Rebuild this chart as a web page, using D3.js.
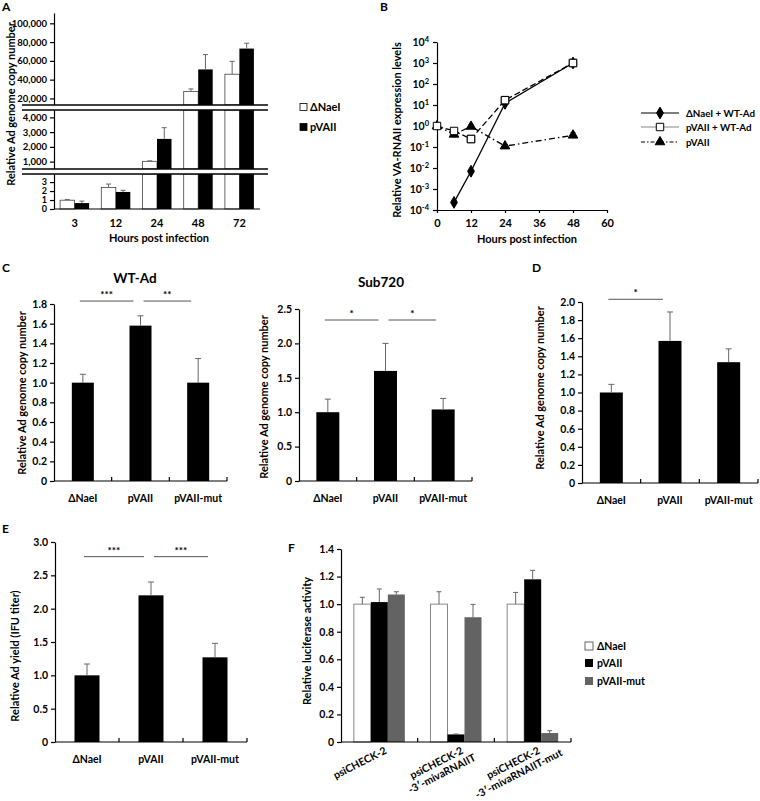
<!DOCTYPE html>
<html><head><meta charset="utf-8">
<script src="https://cdn.jsdelivr.net/npm/d3@7"></script>
<style>
body{margin:0;background:#fff}
svg text{font-family:Lato,"Open Sans",sans-serif;font-weight:700;fill:#000}
.tick text{font-size:10.5px}
.pa .tick text{font-size:9.5px}
.pa .low .tick text{font-size:9px}
</style></head><body>
<svg id="c" width="760" height="801"></svg>
<script>
// ---------------- data ----------------
// Panel A
const hoursA = ["3","12","24","48","72"];
const aNaeI = [0.98, 2.4, 1020, 27500, 45800];
const aNaeIErr = [0.07, 0.38, 30, 2600, 13700];
const aPVAII = [0.66, 1.9, 2540, 50900, 73100];
const aPVAIIErr = [0.22, 0.18, 760, 15800, 5700];
const aTicksTop = [20000, 40000, 60000, 80000, 100000];
const aTicksMid = [1000, 2000, 3000, 4000];
const aTicksLow = [0, 1, 2, 3];
const aLegend = ["ΔNaeI", "pVAII"];
// Panel B
const bTicksX = [0, 12, 24, 36, 48, 60];
const bTicksY = [1e-4, 1e-3, 1e-2, 1e-1, 1, 10, 100, 1000, 1e4];
const bNaeITimes = [6, 12, 24, 48];
const bNaeIVals = [2.3e-4, 7e-3, 12, 1000];
const bNaeIUp = [2.9e-4, 7.6e-3, 13, 1000];
const bPvaWtTimes = [0, 6, 12, 24, 48];
const bPvaWtVals = [1, 0.58, 0.24, 17, 1000];
const bPvaWtUp = [1.1, 0.62, 0.26, 19, 1250];
const bPvaTimes = [0, 6, 12, 24, 48];
const bPvaVals = [1, 0.4, 0.95, 0.11, 0.36];
const bPvaUp = [1.1, 0.45, 1.15, 0.125, 0.48];
const bPvaLo = [0.95, 0.36, 0.8, 0.1, 0.29];
const bLegend = ["ΔNaeI + WT-Ad", "pVAII + WT-Ad", "pVAII"];
// Panels C, D, E
const cats = ["ΔNaeI", "pVAII", "pVAII-mut"];
const wtVals = [1.0, 1.58, 1.0];
const wtErr = [0.085, 0.10, 0.245];
const wtTicks = [0, 0.2, 0.4, 0.6, 0.8, 1.0, 1.2, 1.4, 1.6, 1.8];
const wtSig = [[0, 1, "***", 1.83], [1, 2, "**", 1.83]];
const subVals = [1.0, 1.6, 1.04];
const subErr = [0.19, 0.40, 0.16];
const subTicks = [0, 0.5, 1.0, 1.5, 2.0, 2.5];
const subSig = [[0, 1, "*", 2.34], [1, 2, "*", 2.34]];
const dVals = [1.0, 1.57, 1.335];
const dErr = [0.09, 0.32, 0.147];
const dTicks = [0, 0.2, 0.4, 0.6, 0.8, 1.0, 1.2, 1.4, 1.6, 1.8, 2.0];
const dSig = [[0, 1, "*", 2.03]];
const eVals = [1.0, 2.2, 1.27];
const eErr = [0.17, 0.2, 0.21];
const eTicks = [0, 0.5, 1.0, 1.5, 2.0, 2.5, 3.0];
const eSig = [[0, 1, "***", 2.78], [1, 2, "***", 2.78]];
// Panel F
const fCats = [["psiCHECK-2"], ["psiCHECK-2", "-3′-mivaRNAIIT"], ["psiCHECK-2", "-3′-mivaRNAIIT-mut"]];
const fSeries = ["ΔNaeI", "pVAII", "pVAII-mut"];
const fNaeI = [1.0, 1.0, 1.0];
const fNaeIErr = [0.05, 0.09, 0.085];
const fPVAII = [1.015, 0.055, 1.18];
const fPVAIIErr = [0.095, 0.003, 0.065];
const fMut = [1.07, 0.905, 0.065];
const fMutErr = [0.02, 0.093, 0.017];
const fTicks = [0, 0.2, 0.4, 0.6, 0.8, 1.0, 1.2, 1.4];

// ---------------- helpers ----------------
const svg = d3.select("#c");
const ERR = "#666";
const fmt1 = d => d === 0 ? "0" : d3.format(".1f")(d);

function txt(x, y, t, size, anchor) {
  return svg.append("text").attr("x", x).attr("y", y).attr("text-anchor", anchor || "start")
    .style("font-size", size + "px").text(t);
}
function yTitle(x, y, t) {
  svg.append("text").attr("transform", `translate(${x},${y}) rotate(-90)`)
    .attr("text-anchor", "middle").attr("dy", "0.35em").style("font-size", "11px").text(t);
}
function errBar(g, cx, y1, y2, w) {
  g.append("line").attr("x1", cx).attr("x2", cx).attr("y1", y1).attr("y2", y2).attr("stroke", ERR).attr("stroke-width", 1);
  g.append("line").attr("x1", cx - w / 2).attr("x2", cx + w / 2).attr("y1", y2).attr("y2", y2).attr("stroke", ERR).attr("stroke-width", 1);
}
function styleAxis(sel) {
  sel.selectAll("path,line").attr("stroke", "#000").attr("stroke-width", 1.2);
  sel.attr("font-family", null).attr("font-size", null);
}

// generic single-series bar panel
function barPanel(o) {
  const x = d3.scaleBand().domain(d3.range(o.cats.length)).range([o.left, o.right]);
  const y = d3.scaleLinear().domain([0, o.max]).range([o.bottom, o.top]);
  const cx = i => x(i) + x.bandwidth() / 2;
  const g = svg.append("g");
  g.selectAll("rect").data(o.vals).join("rect")
    .attr("x", (d, i) => cx(i) - o.barW / 2).attr("width", o.barW)
    .attr("y", d => y(d)).attr("height", d => y(0) - y(d)).attr("fill", "#000");
  o.vals.forEach((v, i) => errBar(g, cx(i), y(v), y(v + o.errs[i]), 6));
  const ya = g.append("g").attr("transform", `translate(${o.left},0)`)
    .call(d3.axisLeft(y).tickValues(o.ticks).tickFormat(fmt1).tickSize(4).tickSizeOuter(0).tickPadding(3));
  styleAxis(ya);
  g.append("line").attr("x1", o.left).attr("x2", o.right).attr("y1", o.bottom).attr("y2", o.bottom)
    .attr("stroke", "#000").attr("stroke-width", 1.2);
  d3.range(1, o.cats.length + 1).forEach(i => {
    const xx = o.left + i * x.step();
    g.append("line").attr("x1", xx).attr("x2", xx).attr("y1", o.bottom).attr("y2", o.bottom - 4).attr("stroke", "#000").attr("stroke-width", 1.2);
  });
  o.cats.forEach((c, i) => {
    g.append("text").attr("x", cx(i)).attr("y", o.bottom + 21).attr("text-anchor", "middle").style("font-size", "10.5px").text(c);
  });
  (o.sig || []).forEach(s => {
    const x1 = cx(s[0]) + (s[0] === 0 ? -3 : 3), x2 = cx(s[1]) - 7, yy = y(s[3]);
    g.append("line").attr("x1", x1).attr("x2", x2).attr("y1", yy).attr("y2", yy).attr("stroke", "#555").attr("stroke-width", 1);
    g.append("text").attr("x", (x1 + x2) / 2).attr("y", yy - 3).attr("text-anchor", "middle").style("font-size", "10px").text(s[2]);
  });
  yTitle(o.titleX, o.titleY, o.ytitle);
}

// ---------------- Panel A ----------------
(function () {
  const x = d3.scaleBand().domain(hoursA).range([54, 260]);
  const segs = [
    { s: d3.scaleLinear().domain([13000, 111000]).range([105, 13]), ticks: aTicksTop, cls: "top" },
    { s: d3.scaleLinear().domain([500, 4500]).range([169, 110]), ticks: aTicksMid, cls: "mid" },
    { s: d3.scaleLinear().domain([0, 3.9]).range([209, 174]), ticks: aTicksLow, cls: "low" }
  ];
  const g = svg.append("g").attr("class", "pa");
  const bw = 14.5;
  const series = [
    { vals: aNaeI, errs: aNaeIErr, off: -bw, fill: "#fff" },
    { vals: aPVAII, errs: aPVAIIErr, off: 0, fill: "#000" }
  ];
  series.forEach(ser => {
    ser.vals.forEach((v, i) => {
      const cx = x(hoursA[i]) + x.bandwidth() / 2;
      segs.forEach(sg => {
        const [lo, hi] = sg.s.domain();
        if (v <= lo && lo > 0) return;
        const yb = sg.s(lo), yt = sg.s(Math.min(v, hi));
        g.append("rect").attr("x", cx + ser.off).attr("width", bw).attr("y", yt).attr("height", yb - yt)
          .attr("fill", ser.fill).attr("stroke", ser.fill === "#fff" ? "#444" : "none").attr("stroke-width", 0.8);
        if (v > lo && v <= hi) errBar(g, cx + ser.off + bw / 2, sg.s(v), sg.s(v + ser.errs[i]), 5);
      });
    });
  });
  segs.forEach(sg => {
    const ax = g.append("g").attr("class", sg.cls).attr("transform", "translate(54,0)")
      .call(d3.axisLeft(sg.s).tickValues(sg.ticks).tickFormat(d3.format(",")).tickSize(4).tickSizeOuter(0).tickPadding(3));
    styleAxis(ax);
  });
  g.append("line").attr("x1", 54).attr("x2", 260).attr("y1", 209).attr("y2", 209).attr("stroke", "#000").attr("stroke-width", 1.2);
  [[105, 110], [169, 174]].forEach(([a, b]) => {
    g.append("rect").attr("x", 22).attr("width", 246).attr("y", a).attr("height", b - a).attr("fill", "#fff");
    [a, b].forEach(yy => g.append("line").attr("x1", 22).attr("x2", 268).attr("y1", yy).attr("y2", yy).attr("stroke", "#000").attr("stroke-width", 1.6));
  });
  hoursA.forEach(h => g.append("text").attr("x", x(h) + x.bandwidth() / 2).attr("y", 227).attr("text-anchor", "middle").style("font-size", "11px").text(h));
  txt(159, 242, "Hours post infection", 11, "middle");
  yTitle(11, 104, "Relative Ad genome copy number");
  // legend
  const lg = [{ fill: "#fff", y: 107 }, { fill: "#000", y: 127 }];
  lg.forEach((l, i) => {
    svg.append("rect").attr("x", 300).attr("y", l.y - 3.5).attr("width", 7).attr("height", 7)
      .attr("fill", l.fill).attr("stroke", "#000").attr("stroke-width", 0.8);
    txt(310, l.y + 4, aLegend[i], 11);
  });
  txt(2, 11, "A", 12);
})();

// ---------------- Panel B ----------------
(function () {
  const x = d3.scaleLinear().domain([0, 60]).range([437, 607]);
  const y = d3.scaleLog().domain([1e-4, 1e4]).range([210, 42]);
  const g = svg.append("g");
  const ya = g.append("g").attr("transform", "translate(437,0)")
    .call(d3.axisLeft(y).tickValues(bTicksY).tickSize(4).tickSizeOuter(0).tickPadding(4).tickFormat(d => ""));
  styleAxis(ya);
  ya.selectAll(".tick text").each(function (d) {
    const t = d3.select(this);
    t.append("tspan").style("font-size", "10.5px").text("10");
    t.append("tspan").attr("dy", "-0.5em").style("font-size", "7.5px").text(String(Math.round(Math.log10(d))));
  });
  const xa = g.append("g").attr("transform", "translate(0,210)")
    .call(d3.axisBottom(x).tickValues(bTicksX).tickSize(3).tickSizeOuter(0).tickPadding(6));
  styleAxis(xa);
  xa.selectAll(".tick text").style("font-size", "11px");
  const line = d3.line().x(d => x(d[0])).y(d => y(d[1]));
  const sets = [
    { t: bNaeITimes, v: bNaeIVals, up: bNaeIUp, dash: null, sym: d3.symbolDiamond, size: 40, fill: "#000" },
    { t: bPvaWtTimes, v: bPvaWtVals, up: bPvaWtUp, dash: "6,3", sym: d3.symbolSquare, size: 55, fill: "#fff" },
    { t: bPvaTimes, v: bPvaVals, up: bPvaUp, lo: bPvaLo, dash: "6,3,1.5,3", sym: d3.symbolTriangle, size: 40, fill: "#000" }
  ];
  sets.forEach(s => {
    g.append("path").attr("d", line(s.t.map((tt, i) => [tt, s.v[i]]))).attr("fill", "none")
      .attr("stroke", "#000").attr("stroke-width", 1.3).attr("stroke-dasharray", s.dash);
  });
  sets.forEach(s => {
    s.t.forEach((tt, i) => {
      const lo = s.lo ? s.lo[i] : s.v[i];
      g.append("line").attr("x1", x(tt)).attr("x2", x(tt)).attr("y1", y(lo)).attr("y2", y(s.up[i])).attr("stroke", "#000").attr("stroke-width", 0.8);
      g.append("line").attr("x1", x(tt) - 2.5).attr("x2", x(tt) + 2.5).attr("y1", y(s.up[i])).attr("y2", y(s.up[i])).attr("stroke", "#000").attr("stroke-width", 0.8);
    });
  });
  sets.slice().reverse().forEach(s => {
    s.t.forEach((tt, i) => {
      g.append("path").attr("d", d3.symbol(s.sym, s.size)()).attr("transform", `translate(${x(tt)},${y(s.v[i])})`)
        .attr("fill", s.fill).attr("stroke", "#000").attr("stroke-width", 1);
    });
  });
  // square markers drawn on top where they lead (12 h, 24 h, 48 h)
  bPvaWtTimes.forEach((tt, i) => {
    if (tt < 12) return;
    g.append("path").attr("d", d3.symbol(d3.symbolSquare, 55)())
      .attr("transform", `translate(${x(tt)},${y(bPvaWtVals[i])})`).attr("fill", "#fff").attr("stroke", "#000").attr("stroke-width", 1);
  });
  txt(527, 243, "Hours post infection", 11, "middle");
  yTitle(397, 130, "Relative VA-RNAII expression levels");
  // legend
  const ly = [113, 127, 142];
  sets.forEach((s, i) => {
    svg.append("line").attr("x1", 641).attr("x2", 679).attr("y1", ly[i]).attr("y2", ly[i])
      .attr("stroke", i === 1 ? "#888" : "#000").attr("stroke-width", 1.2).attr("stroke-dasharray", i === 2 ? "4,2,1.5,2" : null);
    svg.append("path").attr("d", d3.symbol(s.sym, s.size)()).attr("transform", `translate(660,${ly[i]})`)
      .attr("fill", s.fill).attr("stroke", "#000").attr("stroke-width", 1);
    txt(686, ly[i] + 4, bLegend[i], 9.8);
  });
  txt(380, 11, "B", 12);
})();

// ---------------- Panel C ----------------
txt(2, 272, "C", 12);
txt(135, 283, "WT-Ad", 13.5, "middle");
barPanel({ cats, vals: wtVals, errs: wtErr, sig: wtSig, ticks: wtTicks, max: 1.8, left: 54, right: 227, top: 304, bottom: 481, barW: 22, ytitle: "Relative Ad genome copy number", titleX: 22, titleY: 393 });
txt(381, 287, "Sub720", 13.5, "middle");
barPanel({ cats, vals: subVals, errs: subErr, sig: subSig, ticks: subTicks, max: 2.5, left: 299, right: 472, top: 309, bottom: 481, barW: 23, ytitle: "Relative Ad genome copy number", titleX: 264, titleY: 397 });

// ---------------- Panel D ----------------
txt(532, 272, "D", 12);
barPanel({ cats, vals: dVals, errs: dErr, sig: dSig, ticks: dTicks, max: 2.0, left: 582, right: 758, top: 302, bottom: 483, barW: 23, ytitle: "Relative Ad genome copy number", titleX: 540, titleY: 388 });

// ---------------- Panel E ----------------
txt(2, 533, "E", 12);
barPanel({ cats, vals: eVals, errs: eErr, sig: eSig, ticks: eTicks, max: 3.0, left: 55, right: 247, top: 542, bottom: 742, barW: 25, ytitle: "Relative Ad yield (IFU titer)", titleX: 15, titleY: 656 });

// ---------------- Panel F ----------------
(function () {
  txt(288, 552, "F", 12);
  const x = d3.scaleBand().domain(d3.range(fCats.length)).range([341, 571]);
  const y = d3.scaleLinear().domain([0, 1.4]).range([742, 549]);
  const sub = d3.scaleBand().domain(fSeries).range([0, 51]);
  const g = svg.append("g");
  const ser = [
    { name: fSeries[0], v: fNaeI, e: fNaeIErr, fill: "#fff", stroke: "#888" },
    { name: fSeries[1], v: fPVAII, e: fPVAIIErr, fill: "#000", stroke: "none" },
    { name: fSeries[2], v: fMut, e: fMutErr, fill: "#636363", stroke: "none" }
  ];
  ser.forEach(s => {
    s.v.forEach((v, i) => {
      const x0 = x(i) + x.bandwidth() / 2 - 25.5 + sub(s.name);
      g.append("rect").attr("x", x0).attr("width", sub.bandwidth()).attr("y", y(v)).attr("height", y(0) - y(v))
        .attr("fill", s.fill).attr("stroke", s.stroke).attr("stroke-width", 1);
      errBar(g, x0 + sub.bandwidth() / 2, y(v), y(v + s.e[i]), 5);
    });
  });
  const ya = g.append("g").attr("transform", "translate(341,0)")
    .call(d3.axisLeft(y).tickValues(fTicks).tickFormat(fmt1).tickSize(4).tickSizeOuter(0).tickPadding(3));
  styleAxis(ya);
  g.append("line").attr("x1", 341).attr("x2", 571).attr("y1", 742).attr("y2", 742).attr("stroke", "#000").attr("stroke-width", 1.2);
  [1, 2, 3].forEach(i => {
    const xx = 341 + i * x.step();
    g.append("line").attr("x1", xx).attr("x2", xx).attr("y1", 742).attr("y2", 738).attr("stroke", "#000").attr("stroke-width", 1.2);
  });
  fCats.forEach((lines, i) => {
    const lg = g.append("g").attr("transform", `translate(${x(i) + x.bandwidth() / 2 + 8},753) rotate(-27)`);
    const t1 = lg.append("text").attr("x", 0).attr("y", 0).attr("text-anchor", "end").style("font-size", "10.5px").text(lines[0]);
    if (lines[1]) {
      const w1 = t1.node().getComputedTextLength();
      lg.append("text").attr("x", -w1 / 2).attr("y", 12).attr("text-anchor", "middle").style("font-size", "10.5px").text(lines[1]);
    }
  });
  yTitle(307, 641, "Relative luciferase activity");
  const ly = [646, 663, 681];
  ser.forEach((s, i) => {
    svg.append("rect").attr("x", 585).attr("y", ly[i] - 4).attr("width", 8).attr("height", 8)
      .attr("fill", s.fill).attr("stroke", i === 0 ? "#666" : "none").attr("stroke-width", 1);
    txt(597, ly[i] + 4, s.name, 10.5);
  });
})();
</script>
</body></html>
